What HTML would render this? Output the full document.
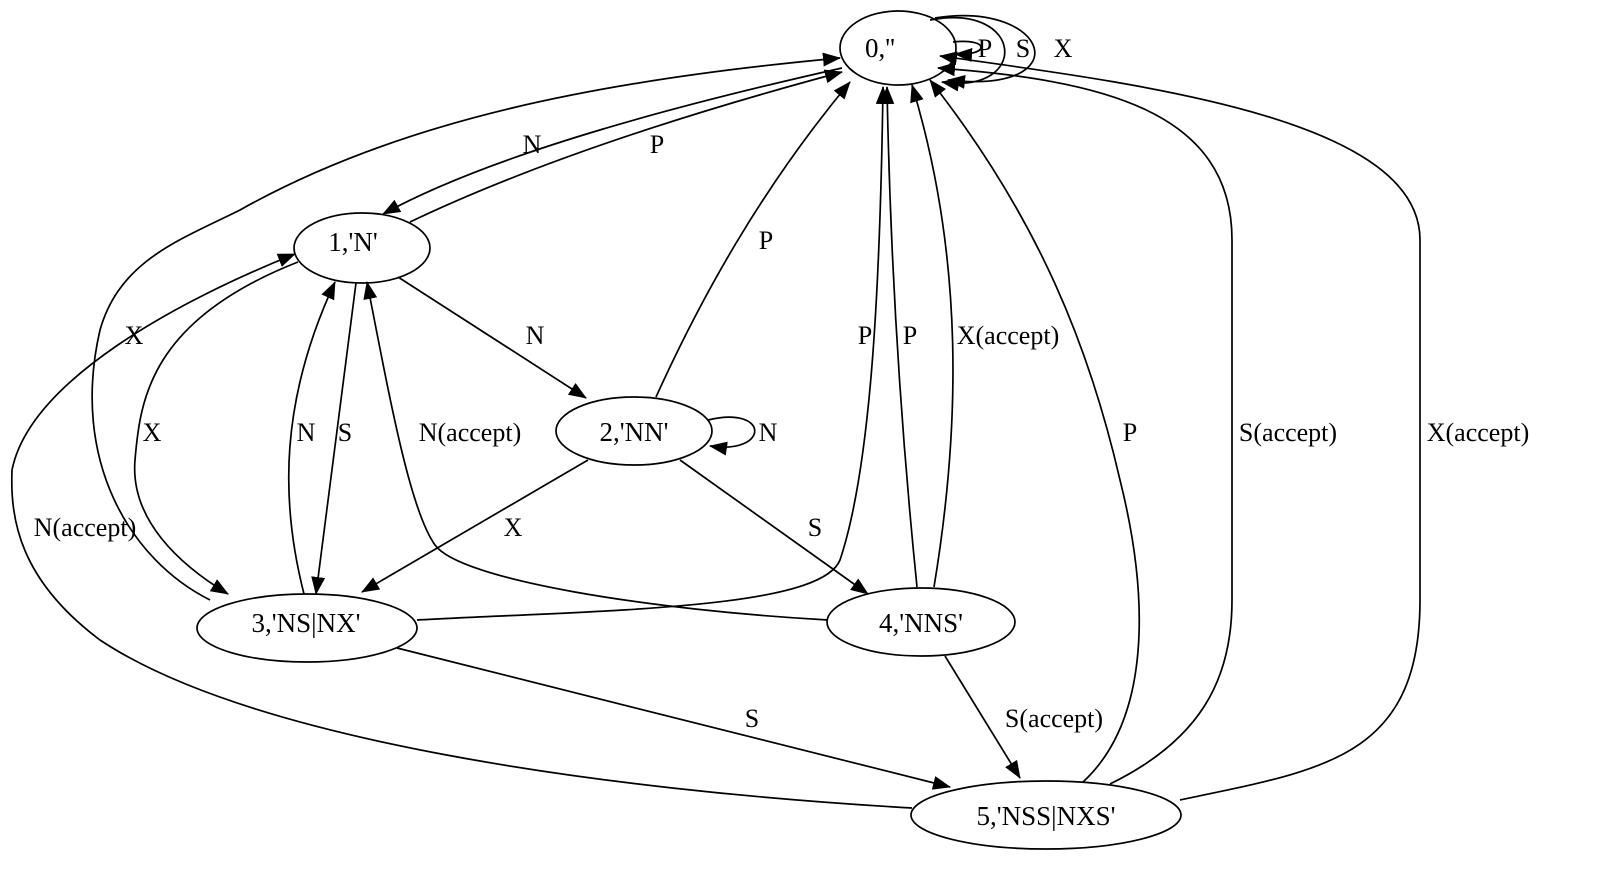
<!DOCTYPE html>
<html><head><meta charset="utf-8"><style>
html,body{margin:0;padding:0;background:#fff;}
svg{display:block;}
text{font-family:"Liberation Serif",serif;fill:#000;}
</style></head><body>
<svg width="1600" height="876" viewBox="0 0 1600 876" xmlns="http://www.w3.org/2000/svg">
<defs>
<marker id="a" markerUnits="userSpaceOnUse" markerWidth="18" markerHeight="14" refX="17" refY="7" orient="auto">
<path d="M0,0 L18,7 L0,14 Z" fill="#000"/>
</marker>
</defs>
<g fill="none" stroke="#000" stroke-width="1.7">
<ellipse cx="898" cy="48" rx="58" ry="37"/>
<ellipse cx="362" cy="248" rx="68" ry="35"/>
<ellipse cx="634" cy="431" rx="78" ry="34"/>
<ellipse cx="307" cy="628" rx="110" ry="34"/>
<ellipse cx="921" cy="622" rx="94" ry="34"/>
<ellipse cx="1046" cy="815" rx="135" ry="34"/>

<path d="M953,42 C990,38 990,56 955,54" marker-end="url(#a)"/>
<path d="M930,20 C1025,2 1030,95 942,82" marker-end="url(#a)"/>
<path d="M935,18 C1050,0 1080,95 948,80" marker-end="url(#a)"/>
<path d="M842,68 C700,100 500,150 383,214" marker-end="url(#a)"/>
<path d="M410,222 C540,160 700,110 842,72" marker-end="url(#a)"/>
<path d="M210,600 C130,560 70,460 100,330 C120,260 180,240 240,210 C400,120 600,80 840,58" marker-end="url(#a)"/>
<path d="M298,262 C150,320 140,400 135,460 C130,520 180,565 228,594" marker-end="url(#a)"/>
<path d="M304,594 C280,500 280,400 335,282" marker-end="url(#a)"/>
<path d="M356,283 L316,594" marker-end="url(#a)"/>
<path d="M828,620 C650,610 460,580 435,545 C410,510 390,400 367,282" marker-end="url(#a)"/>
<path d="M912,808 C600,790 250,740 100,640 C20,580 10,520 12,470 C30,380 180,300 295,254" marker-end="url(#a)"/>
<path d="M398,277 L586,398" marker-end="url(#a)"/>
<path d="M708,420 C770,405 770,455 710,446" marker-end="url(#a)"/>
<path d="M656,397 C700,300 760,190 850,82" marker-end="url(#a)"/>
<path d="M588,460 L362,592" marker-end="url(#a)"/>
<path d="M680,460 L868,594" marker-end="url(#a)"/>
<path d="M417,620 C600,610 820,610 840,560 C870,470 880,300 883,87" marker-end="url(#a)"/>
<path d="M917,587 C900,420 890,250 887,87" marker-end="url(#a)"/>
<path d="M934,587 C960,430 965,260 912,85" marker-end="url(#a)"/>
<path d="M397,648 L950,787" marker-end="url(#a)"/>
<path d="M945,656 L1020,778" marker-end="url(#a)"/>
<path d="M1083,782 C1150,720 1150,600 1120,480 C1090,350 1040,220 930,80" marker-end="url(#a)"/>
<path d="M1110,784 C1200,740 1232,680 1232,600 L1232,240 C1232,110 1100,80 938,68" marker-end="url(#a)"/>
<path d="M1180,800 C1320,770 1420,760 1420,600 L1420,240 C1420,120 1150,85 940,56" marker-end="url(#a)"/>
</g>
<g font-size="27" text-anchor="middle">
<text x="880" y="57">0,''</text>
<text x="353" y="251">1,'N'</text>
<text x="634" y="441">2,'NN'</text>
<text x="306" y="632">3,'NS|NX'</text>
<text x="921" y="632">4,'NNS'</text>
<text x="1046" y="825">5,'NSS|NXS'</text>
</g>
<g font-size="26" text-anchor="middle">
<text x="985" y="57">P</text>
<text x="1023" y="57">S</text>
<text x="1063" y="57">X</text>
<text x="532" y="153">N</text>
<text x="657" y="153">P</text>
<text x="134" y="344">X</text>
<text x="152" y="441">X</text>
<text x="306" y="441">N</text>
<text x="345" y="441">S</text>
<text x="470" y="441">N(accept)</text>
<text x="85" y="536">N(accept)</text>
<text x="535" y="344">N</text>
<text x="768" y="441">N</text>
<text x="766" y="249">P</text>
<text x="513" y="536">X</text>
<text x="815" y="536">S</text>
<text x="865" y="344">P</text>
<text x="910" y="344">P</text>
<text x="1008" y="344">X(accept)</text>
<text x="752" y="727">S</text>
<text x="1054" y="727">S(accept)</text>
<text x="1130" y="441">P</text>
<text x="1288" y="441">S(accept)</text>
<text x="1478" y="441">X(accept)</text>
</g>
</svg>
</body></html>
